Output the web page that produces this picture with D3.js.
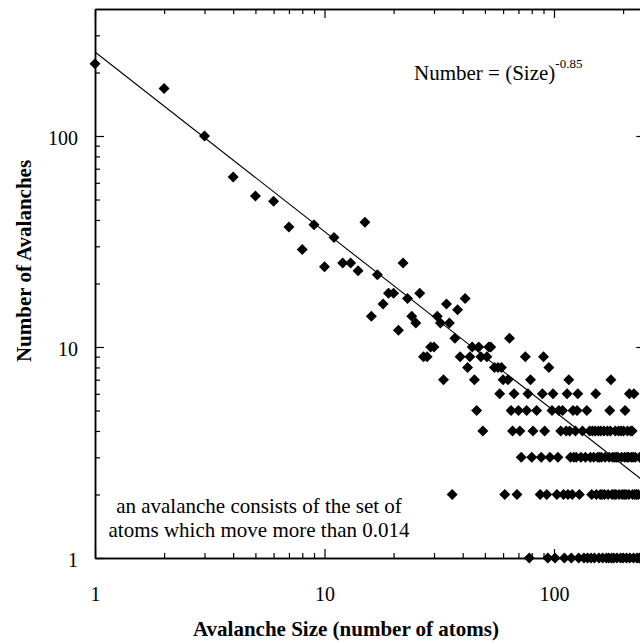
<!DOCTYPE html>
<html>
<head>
<meta charset="utf-8">
<script src="https://cdn.jsdelivr.net/npm/d3@7/dist/d3.min.js"></script>
<style>
  body { margin: 0; background: #ffffff; }
  svg { display: block; font-family: 'Liberation Serif', 'Times New Roman', serif; }
</style>
</head>
<body>
<svg id="chart" width="640" height="643"></svg>
<script>
'use strict'

/****** DATA ******/

// number of avalanches (y) and the avalanche sizes (x) that were counted that often
const counts = [1, 2, 3, 4, 5, 6, 7, 8, 9, 10, 11, 12, 13, 14, 15, 16, 17, 18,
                22, 23, 24, 25, 29, 33, 37, 38, 39, 49, 52, 64, 100, 168, 220]

const sizesPerCount = [
  [78, 94, 101, 111, 119, 128, 135, 140, 145, 150, 157, 163, 169, 173, 178, 182, 188, 195, 200, 207, 214, 222, 230, 235],
  [36, 61, 69, 87, 93, 103, 110, 115, 120, 129, 146, 153, 159, 162, 166, 172, 179, 183, 186, 192, 198, 202, 206, 212, 220, 225, 229, 233],
  [72, 80, 88, 96, 104, 118, 122, 125, 131, 137, 144, 149, 155, 158, 161, 167, 174, 180, 184, 187, 190, 197, 203, 208, 211, 217, 221, 226, 236],
  [49, 66, 71, 81, 91, 107, 113, 117, 124, 133, 143, 147, 151, 156, 160, 165, 171, 176, 185, 191, 196, 201, 209, 216, 219],
  [46, 65, 70, 76, 84, 98, 105, 109, 121, 126, 139, 175, 204],
  [58, 67, 77, 89, 99, 114, 127, 152, 213, 223],
  [33, 45, 60, 63, 79, 116, 177],
  [42, 55, 57, 59, 95],
  [27, 28, 39, 43, 48, 51, 75, 90],
  [29, 30, 44, 47, 52, 53],
  [37, 64],
  [21],
  [25, 32, 35],
  [16, 24, 31],
  [38],
  [18, 34],
  [23, 41],
  [19, 20, 26],
  [17],
  [14],
  [10],
  [12, 13, 22],
  [8],
  [11],
  [7],
  [9],
  [15],
  [6],
  [5],
  [4],
  [3],
  [2],
  [1]
]

// fitted power law, Number = (Size)^-0.85, end points
const fitSizes = [1, 250]
const fitCounts = [250, 2.28]

// axis ticks
const xMajorTicks = [1, 10, 100]
const xMinorTicks = [2, 3, 4, 5, 6, 7, 8, 9, 20, 30, 40, 50, 60, 70, 80, 90, 200]
const yMajorTicks = [1, 10, 100]
const yMinorTicks = [2, 3, 4, 5, 6, 7, 8, 9, 20, 30, 40, 50, 60, 70, 80, 90, 200, 300]

const xTitle = 'Avalanche Size (number of atoms)'
const yTitle = 'Number of Avalanches'
const noteLines = ['an avalanche consists of the set of', 'atoms which move more than 0.014']


/****** SCALES ******/

const plot = { left: 95, bottom: 558, decadeX: 229.5, decadeY: 211 }

const x = d3.scaleLog()
  .domain([1, 250])
  .range([plot.left, plot.left + plot.decadeX * Math.log10(250)])

const y = d3.scaleLog()
  .domain([1, 400])
  .range([plot.bottom, plot.bottom - plot.decadeY * Math.log10(400)])

const [xl, xr] = x.range()
const [yb, yt] = y.range()

const svg = d3.select('#chart')

// flatten grouped data into points
const points = []
counts.forEach((c, i) => {
  for (let s of sizesPerCount[i]) points.push({ size: s, count: c })
})


/****** AXES ******/

function styleAxis(g) {
  g.select('.domain').attr('stroke', '#000').attr('stroke-width', 1.5)
  g.selectAll('.tick line').attr('stroke', '#000').attr('stroke-width', 1.2)
  g.selectAll('.tick text')
    .attr('fill', '#000')
    .attr('font-size', 20)
    .attr('font-family', "'Liberation Serif', 'Times New Roman', serif")
}

// bottom: labelled, ticks pointing inwards
svg.append('g')
  .attr('transform', `translate(0,${yb})`)
  .call(d3.axisBottom(x).tickValues(xMajorTicks).tickFormat(d3.format('d'))
    .tickSize(-9).tickSizeOuter(0).tickPadding(29))
  .call(styleAxis)

svg.append('g')
  .attr('transform', `translate(0,${yb})`)
  .call(d3.axisBottom(x).tickValues(xMinorTicks).tickFormat('').tickSize(-5).tickSizeOuter(0))
  .call(styleAxis)

// top
svg.append('g')
  .attr('transform', `translate(0,${yt})`)
  .call(d3.axisTop(x).tickValues(xMajorTicks).tickFormat('').tickSize(-9).tickSizeOuter(0))
  .call(styleAxis)

svg.append('g')
  .attr('transform', `translate(0,${yt})`)
  .call(d3.axisTop(x).tickValues(xMinorTicks).tickFormat('').tickSize(-5).tickSizeOuter(0))
  .call(styleAxis)

// left: labelled
svg.append('g')
  .attr('transform', `translate(${xl},0)`)
  .call(d3.axisLeft(y).tickValues(yMajorTicks).tickFormat(d3.format('d'))
    .tickSize(-9).tickSizeOuter(0).tickPadding(17))
  .call(styleAxis)
  .call(g => g.selectAll('.tick text').attr('dy', '0.42em'))

svg.append('g')
  .attr('transform', `translate(${xl},0)`)
  .call(d3.axisLeft(y).tickValues(yMinorTicks).tickFormat('').tickSize(-5).tickSizeOuter(0))
  .call(styleAxis)

// right (mostly outside the picture)
svg.append('g')
  .attr('transform', `translate(${xr},0)`)
  .call(d3.axisRight(y).tickValues(yMajorTicks).tickFormat('').tickSize(-9).tickSizeOuter(0))
  .call(styleAxis)

svg.append('g')
  .attr('transform', `translate(${xr},0)`)
  .call(d3.axisRight(y).tickValues(yMinorTicks).tickFormat('').tickSize(-5).tickSizeOuter(0))
  .call(styleAxis)


/****** MARKS ******/

svg.append('clipPath')
  .attr('id', 'plot-clip')
  .append('rect')
    .attr('x', xl)
    .attr('y', yt)
    .attr('width', xr - xl)
    .attr('height', yb - yt)

// fit line
svg.append('path')
  .datum(fitSizes.map((s, i) => ({ size: s, count: fitCounts[i] })))
  .attr('clip-path', 'url(#plot-clip)')
  .attr('fill', 'none')
  .attr('stroke', '#000')
  .attr('stroke-width', 1.1)
  .attr('d', d3.line().x(d => x(d.size)).y(d => y(d.count)))

// diamonds
const diamond = 'M0,-5.5L5.5,0L0,5.5L-5.5,0Z'

svg.append('g')
  .selectAll('path')
  .data(points)
  .join('path')
    .attr('transform', d => `translate(${x(d.size)},${y(d.count)})`)
    .attr('d', diamond)
    .attr('fill', '#000')


/****** TEXT ******/

const eq = svg.append('text')
  .attr('x', 414)
  .attr('y', 80)
  .attr('font-size', 21)
  .attr('fill', '#000')
eq.append('tspan').text('Number = (Size)')
eq.append('tspan')
  .attr('dy', -12)
  .attr('font-size', 13)
  .text('-0.85')

svg.append('g')
  .selectAll('text')
  .data(noteLines)
  .join('text')
    .attr('x', 259)
    .attr('y', (d, i) => 513 + i * 24)
    .attr('text-anchor', 'middle')
    .attr('font-size', 21)
    .attr('fill', '#000')
    .text(d => d)

svg.append('text')
  .attr('x', 346)
  .attr('y', 636)
  .attr('text-anchor', 'middle')
  .attr('font-size', 21)
  .attr('font-weight', 'bold')
  .attr('fill', '#000')
  .text(xTitle)

svg.append('text')
  .attr('transform', 'translate(31,261) rotate(-90)')
  .attr('text-anchor', 'middle')
  .attr('font-size', 21)
  .attr('font-weight', 'bold')
  .attr('fill', '#000')
  .text(yTitle)
</script>
</body>
</html>
